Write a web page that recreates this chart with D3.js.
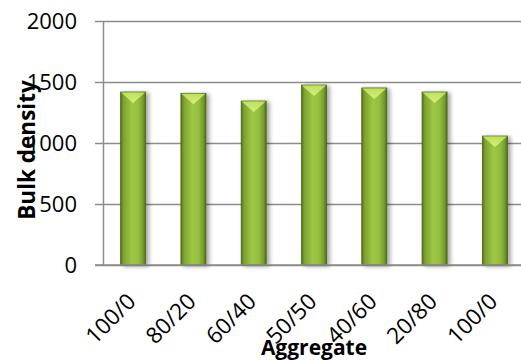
<!DOCTYPE html>
<html>
<head>
<meta charset="utf-8">
<script src="https://cdn.jsdelivr.net/npm/d3@7"></script>
<style>
  html, body { margin: 0; padding: 0; background: #fff; }
  svg { display: block; }
</style>
</head>
<body>
<svg id="chart" width="521" height="361"></svg>
<script>
// Bulk density per aggregate mix
const categories = ["100/0", "80/20", "60/40", "50/50", "40/60", "20/80", "100/0"];
const bulkDensity = [1418, 1407, 1344, 1475, 1451, 1418, 1057];
const yTicks = [0, 500, 1000, 1500, 2000];
const yTitle = "Bulk density";
const xTitle = "Aggregate";

(function () {
const svg = d3.select("#chart");
const plotLeft = 103, plotRight = 525, plotTop = 21, plotBottom = 265;
const font = "'Open Sans', 'DejaVu Sans', sans-serif";

const x = d3.scaleBand()
  .domain(d3.range(categories.length))
  .range([plotLeft, plotRight])
  .paddingInner(0.585)
  .paddingOuter(0.2925);

const y = d3.scaleLinear().domain([0, 2000]).range([plotBottom, plotTop]);

const defs = svg.append("defs");
const body = defs.append("linearGradient").attr("id", "barBody")
  .attr("x1", "0%").attr("x2", "100%").attr("y1", "0%").attr("y2", "0%");
[["0%", "#55741b"], ["12%", "#7ea332"], ["45%", "#9ec745"], ["70%", "#95be40"], ["90%", "#749c2b"], ["100%", "#4f6c18"]]
  .forEach(([o, c]) => body.append("stop").attr("offset", o).attr("stop-color", c));

const cap = defs.append("linearGradient").attr("id", "barCap")
  .attr("x1", "0%").attr("x2", "0%").attr("y1", "0%").attr("y2", "100%");
[["0%", "#bfe05c"], ["100%", "#d4ef7c"]]
  .forEach(([o, c]) => cap.append("stop").attr("offset", o).attr("stop-color", c));

const shadow = defs.append("filter").attr("id", "shadow")
  .attr("x", "-30%").attr("y", "-10%").attr("width", "180%").attr("height", "130%");
shadow.append("feGaussianBlur").attr("in", "SourceAlpha").attr("stdDeviation", 2);
shadow.append("feOffset").attr("dx", 3).attr("dy", 1).attr("result", "off");
shadow.append("feComponentTransfer").append("feFuncA").attr("type", "linear").attr("slope", 0.35);
const merge = shadow.append("feMerge");
merge.append("feMergeNode");
merge.append("feMergeNode").attr("in", "SourceGraphic");

// Gridlines
const grid = svg.append("g")
  .attr("transform", `translate(${plotLeft},0)`)
  .call(d3.axisLeft(y).tickValues(yTicks).tickSize(-(plotRight - plotLeft)).tickFormat(""));
grid.select(".domain").remove();
grid.selectAll(".tick line").attr("stroke", "#8c8c8c").attr("stroke-width", 1.5);

// Y axis with outward ticks and labels
const yAxis = svg.append("g")
  .attr("transform", `translate(${plotLeft},0)`)
  .call(d3.axisLeft(y).tickValues(yTicks).tickFormat(d3.format("d"))
    .tickSize(8).tickPadding(18).tickSizeOuter(0));
yAxis.select(".domain").attr("stroke", "#8c8c8c").attr("stroke-width", 1.5);
yAxis.selectAll(".tick line").attr("stroke", "#8c8c8c").attr("stroke-width", 1.5);
yAxis.selectAll(".tick text")
  .attr("font-family", font).attr("font-size", 22).attr("fill", "#000");

// Bars
const bars = svg.append("g").selectAll("g.bar")
  .data(bulkDensity)
  .join("g").attr("class", "bar").attr("filter", "url(#shadow)");

bars.append("rect")
  .attr("x", (d, i) => x(i))
  .attr("y", d => y(d))
  .attr("width", x.bandwidth())
  .attr("height", d => y(0) - y(d))
  .attr("fill", "url(#barBody)")
  .attr("stroke", "#4a6516")
  .attr("stroke-width", 0.8);

bars.append("path")
  .attr("d", (d, i) => {
    const x0 = x(i), x1 = x(i) + x.bandwidth(), xc = x0 + x.bandwidth() / 2, t = y(d);
    return `M${x0 + 0.5},${t + 0.5} L${x1 - 0.5},${t + 0.5} L${xc},${t + 11} Z`;
  })
  .attr("fill", "url(#barCap)");

// X axis
const xAxis = svg.append("g")
  .attr("transform", `translate(0,${plotBottom})`)
  .call(d3.axisBottom(x).tickSize(0).tickFormat(i => categories[i]));
xAxis.select(".domain").remove();
svg.append("line")
  .attr("x1", plotLeft - 8).attr("x2", plotRight)
  .attr("y1", plotBottom).attr("y2", plotBottom)
  .attr("stroke", "#8c8c8c").attr("stroke-width", 1.5);

xAxis.selectAll(".tick text")
  .attr("font-family", font).attr("font-size", 22.5).attr("fill", "#000")
  .attr("text-anchor", "end")
  .attr("dy", 0)
  .attr("y", 0)
  .attr("transform", "translate(4,38) rotate(-45)");

// Axis titles
svg.append("text")
  .attr("transform", `translate(35,150) rotate(-90)`)
  .attr("text-anchor", "middle")
  .attr("font-family", font).attr("font-weight", "bold").attr("font-size", 22.5)
  .text(yTitle);

svg.append("text")
  .attr("x", 314).attr("y", 355)
  .attr("text-anchor", "middle")
  .attr("font-family", font).attr("font-weight", "bold").attr("font-size", 21)
  .text(xTitle);
})();
</script>
</body>
</html>
